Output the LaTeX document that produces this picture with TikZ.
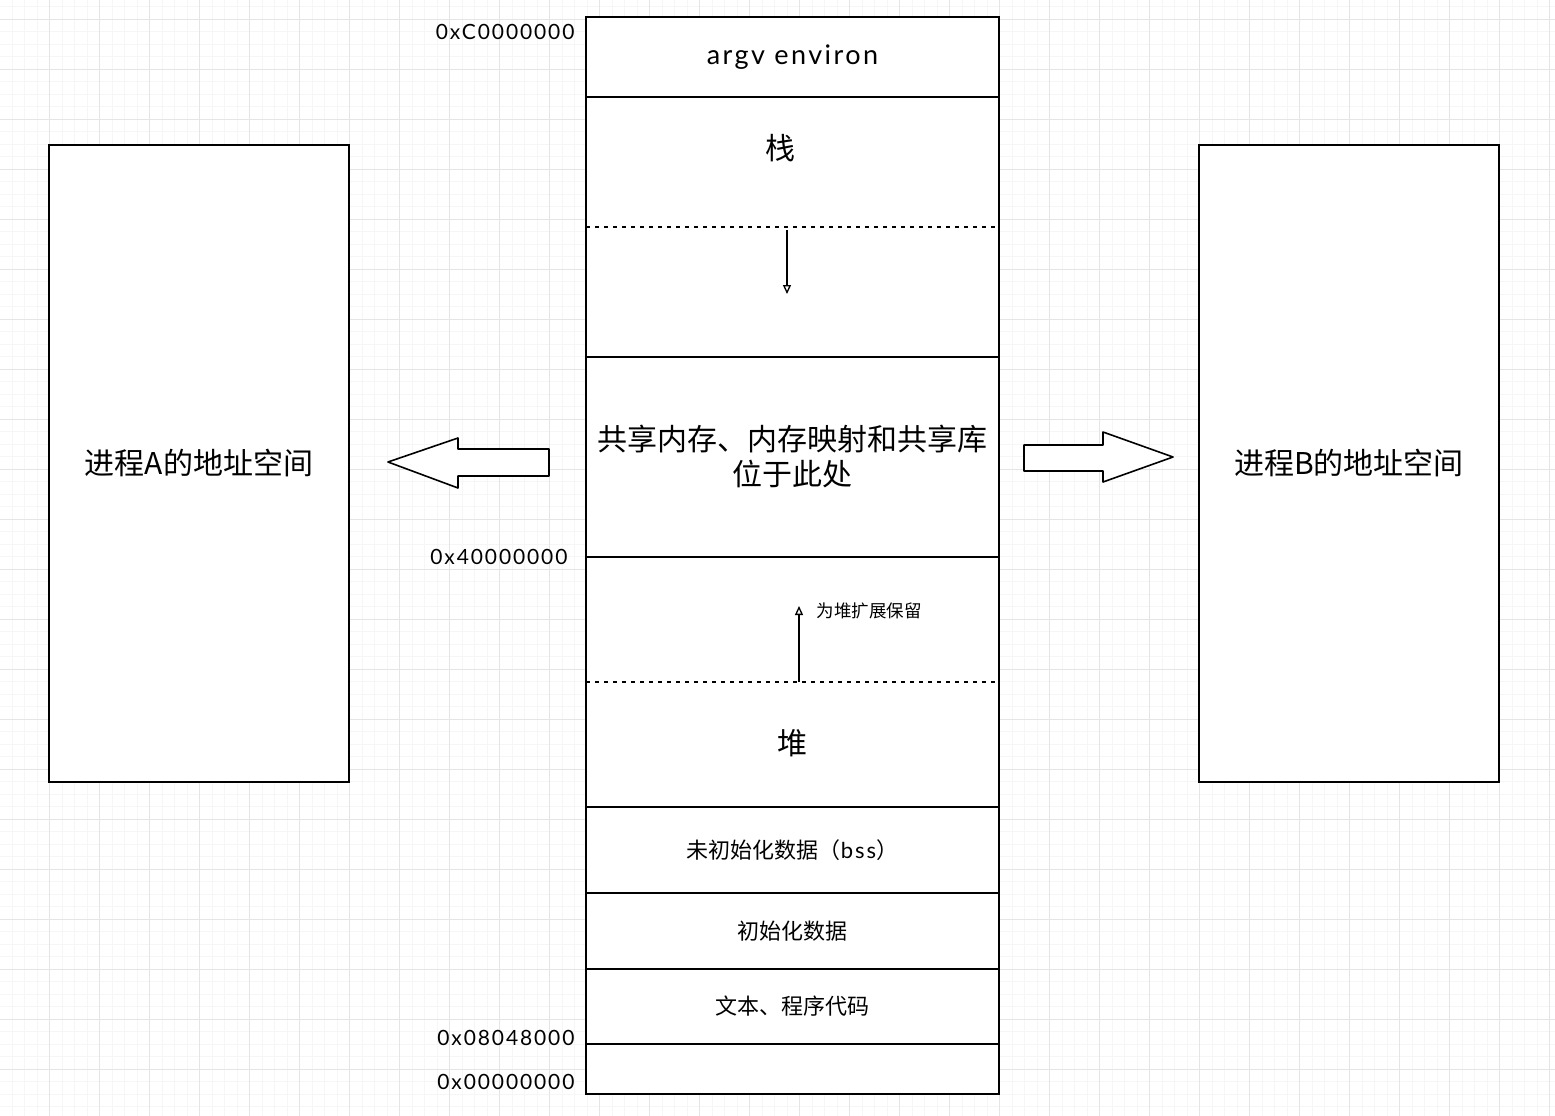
\documentclass[tikz,border=0pt]{standalone}
\usepackage{fontspec}
\setmainfont{Lato}
\newfontfamily\cjk{Noto Sans CJK SC}
\newfontfamily\hand[LetterSpace=9]{Lato}
\usetikzlibrary{arrows.meta,positioning}

\tikzset{
  seg/.style={draw,line width=1.5pt,fill=white,minimum width=413pt,inner sep=0pt,outer sep=0pt},
  space/.style={draw,line width=1.5pt,fill=white,minimum width=300pt,minimum height=637pt,
    font=\cjk\fontsize{30}{36}\selectfont},
  big/.style={font=\cjk\fontsize{30}{35}\selectfont},
  mid/.style={font=\cjk\fontsize{22}{26}\selectfont},
  addr/.style={anchor=east,font=\hand\fontsize{21}{24}\selectfont},
  dotline/.style={line width=2.5pt,dash pattern=on 4pt off 5pt},
  growarrow/.style={-{Triangle[open,length=9pt,width=8pt]},line width=1.3pt},
  fat/.style={line width=1.6pt,fill=white,line join=round},
}

\begin{document}
\begin{tikzpicture}[x=1pt,y=-1pt,>=Stealth]
  \useasboundingbox (0,0) rectangle (1555,1116);
  \fill[white] (0,0) rectangle (1555,1116);
  \foreach \x in {-0.5,12,...,1555} \draw[gray!7,line width=0.8pt] (\x,0) -- (\x,1116);
  \foreach \y in {6.5,19,...,1116} \draw[gray!7,line width=0.8pt] (0,\y) -- (1555,\y);
  \foreach \x in {49,99,...,1555} \draw[gray!20,line width=0.8pt] (\x,0) -- (\x,1116);
  \foreach \y in {19,69,...,1116} \draw[gray!20,line width=0.8pt] (0,\y) -- (1555,\y);

  \node[seg,minimum height=80pt,font=\hand\fontsize{27}{30}\selectfont] (argv) at (792.5,57) {argv environ};
  \node[seg,minimum height=260pt,below=0pt of argv] (stack) {};
  \node[seg,minimum height=200pt,below=0pt of stack,big,align=center] (shared) {共享内存、内存映射和共享库\\位于此处};
  \node[seg,minimum height=250pt,below=0pt of shared] (heap) {};
  \node[seg,minimum height=86pt,below=0pt of heap,mid] (bss) {未初始化数据（{\hand bss}）};
  \node[seg,minimum height=76pt,below=0pt of bss,mid] (data) {初始化数据};
  \node[seg,minimum height=75pt,below=0pt of data,mid] (text) {文本、程序代码};
  \node[seg,minimum height=50pt,below=0pt of text] (low) {};

  \node[big] (zhan) at ([xshift=-12pt,yshift=79pt]stack.center) {栈};
  \node[big] (dui) at ([yshift=-61pt]heap.center) {堆};
  \draw[dotline] (stack.west) -- (stack.east);
  \draw[dotline] (heap.west) -- (heap.east);
  \coordinate (sa) at ([xshift=-5.5pt,yshift=-3pt]stack.center);
  \coordinate (sb) at ([xshift=-5.5pt,yshift=-67pt]stack.center);
  \draw[growarrow] (sa) -- (sb);
  \coordinate (ha) at ([xshift=6.5pt]heap.center);
  \coordinate (hb) at ([xshift=6.5pt,yshift=76pt]heap.center);
  \draw[growarrow] (ha) -- (hb);
  \node[anchor=west,font=\cjk\fontsize{17.5}{20}\selectfont] (keep) at (813,611) {为堆扩展保留};

  \node[addr] (ac) at (578,32) {0xC0000000};
  \node[addr] (a4) at (571,557) {0x40000000};
  \node[addr] (a8) at (578,1038) {0x08048000};
  \node[addr] (a0) at (578,1082) {0x00000000};

  \node[space] (pa) at (199,463.5) {进程A的地址空间};
  \node[space] (pb) at (1349,463.5) {进程B的地址空间};

  \draw[fat] (388,462) -- (458,438) -- (458,449) -- (549,449) -- (549,476) -- (458,476) -- (458,488) -- cycle;
  \draw[fat] (1024,445) -- (1103,445) -- (1103,432) -- (1173,457) -- (1103,482) -- (1103,471) -- (1024,471) -- cycle;
\end{tikzpicture}
\end{document}
